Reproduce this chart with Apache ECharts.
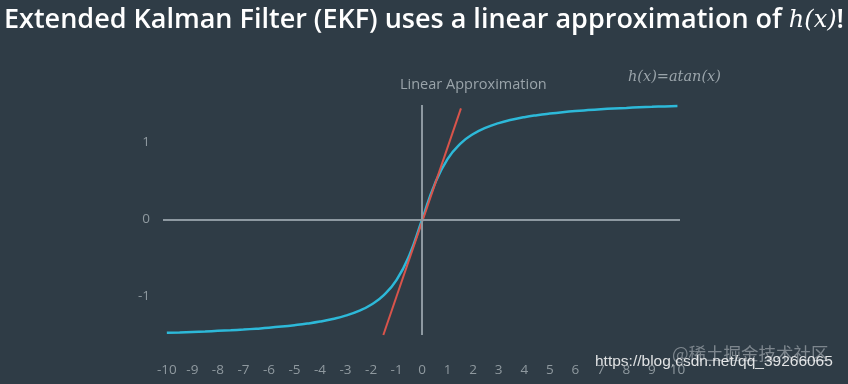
<!DOCTYPE html>
<html>
<head>
<meta charset="utf-8">
<script src="https://cdn.jsdelivr.net/npm/echarts@6/dist/echarts.min.js"></script>
<style>
html,body{margin:0;padding:0;background:#2f3c46;}
#chart{width:848px;height:384px;}
</style>
</head>
<body>
<div id="chart"></div>
<script>
// x positions of the curve samples (step 0.5) and the read h(x)=atan(x) values
var curveX = [-10,-9.5,-9,-8.5,-8,-7.5,-7,-6.5,-6,-5.5,-5,-4.5,-4,-3.5,-3,-2.5,-2,-1.5,-1,-0.5,0,0.5,1,1.5,2,2.5,3,3.5,4,4.5,5,5.5,6,6.5,7,7.5,8,8.5,9,9.5,10];
var curveY = [-1.471,-1.466,-1.460,-1.454,-1.446,-1.438,-1.429,-1.418,-1.406,-1.391,-1.373,-1.352,-1.326,-1.292,-1.249,-1.190,-1.107,-0.983,-0.785,-0.464,0,0.464,0.785,0.983,1.107,1.190,1.249,1.292,1.326,1.352,1.373,1.391,1.406,1.418,1.429,1.438,1.446,1.454,1.460,1.466,1.471];
// tangent line (linear approximation) end points
var tangentX = [-1.52, 1.52];
var tangentY = [-1.5, 1.44];
// tick labels
var xTicks = [-10,-9,-8,-7,-6,-5,-4,-3,-2,-1,0,1,2,3,4,5,6,7,8,9,10];
var yTicks = [-1,0,1];

var curveData = curveX.map(function(x,i){return [x, curveY[i]];});
var tangentData = tangentX.map(function(x,i){return [x, tangentY[i]];});

var axisGray = '#8e99a1';
var labelGray = '#8f999f';

var chart = echarts.init(document.getElementById('chart'));
chart.setOption({
  backgroundColor: '#2f3c46',
  animation: false,
  title: {
    left: -1, top: 2,
    text: 'Extended Kalman Filter (EKF) uses a linear approximation of {m|h(x)}!',
    textStyle: {
      color: '#ffffff', fontFamily: 'Open Sans', fontSize: 27, fontWeight: 600,
      rich: { m: { fontFamily: 'DejaVu Serif', fontStyle: 'italic', fontWeight: 'normal', fontSize: 24, color: '#ffffff' } }
    }
  },
  grid: { left: 163, right: 168, top: 105, bottom: 49, containLabel: false },
  xAxis: {
    type: 'value', min: -10.15, max: 10.1,
    axisLine: { show: false }, axisTick: { show: false }, splitLine: { show: false },
    axisLabel: { customValues: xTicks, color: labelGray, fontFamily: 'Open Sans', fontSize: 13.5, margin: 28 }
  },
  yAxis: {
    type: 'value', min: -1.5, max: 1.484,
    axisLine: { show: false }, axisTick: { show: false }, splitLine: { show: false },
    axisLabel: { customValues: yTicks, color: labelGray, fontFamily: 'Open Sans', fontSize: 13.5, margin: 13 }
  },
  series: [
    {
      type: 'line', data: [], silent: true,
      markLine: {
        silent: true, symbol: ['none','none'], label: { show: false },
        lineStyle: { color: axisGray, width: 2, type: 'solid' },
        data: [{ yAxis: 0 }, { xAxis: 0 }]
      }
    },
    {
      name: 'atan', type: 'line', data: curveData, smooth: true, showSymbol: false,
      lineStyle: { color: '#2db9d9', width: 2.5 }, z: 3
    },
    {
      name: 'tangent', type: 'line', data: tangentData, showSymbol: false,
      lineStyle: { color: '#d9544b', width: 2 }, z: 4
    }
  ],
  graphic: [
    { type: 'text', left: 400, top: 77, style: { text: 'Linear Approximation', font: '14.5px "Open Sans"', fill: '#9aa4aa' } },
    { type: 'text', left: 628, top: 70, style: { text: 'h(x)=atan(x)', font: 'italic 14.5px "DejaVu Serif"', fill: '#9aa4aa' } },
    { type: 'text', left: 672, top: 345, style: { text: '@稀土掘金技术社区', font: '17.5px "Noto Sans CJK SC"', fill: 'rgba(190,195,200,0.55)' } },
    { type: 'text', left: 595, top: 354, style: { text: 'https://blog.csdn.net/qq_39266065', font: '15.5px "Liberation Sans"', fill: 'rgba(255,255,255,0.85)' } }
  ]
});
</script>
</body>
</html>
